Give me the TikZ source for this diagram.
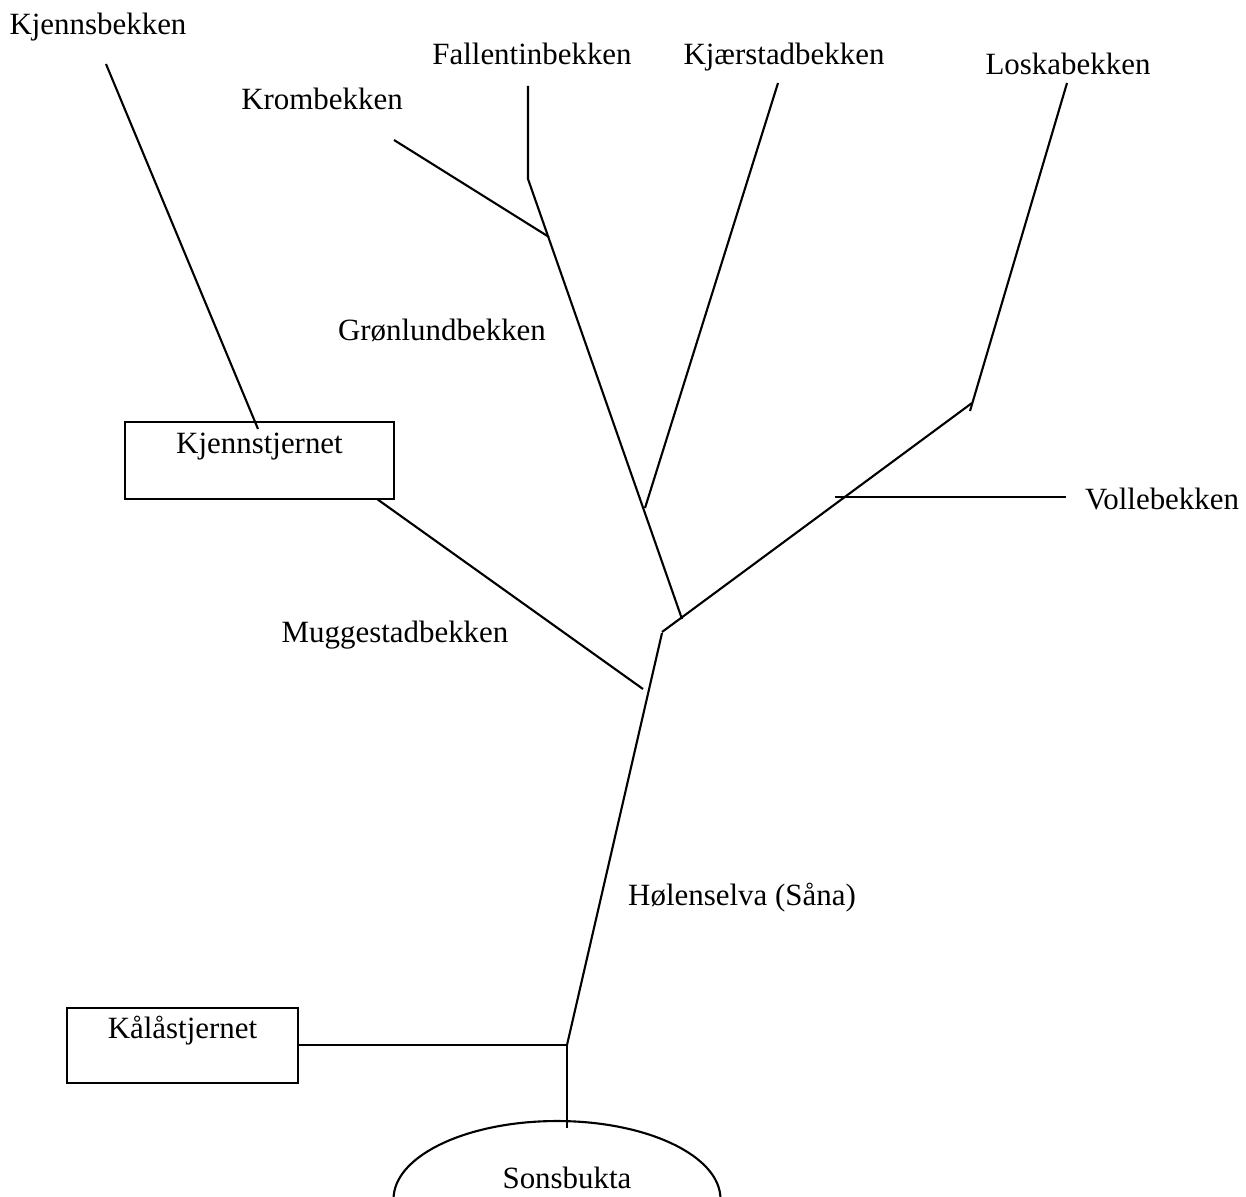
\documentclass[tikz,border=0pt]{standalone}
\usepackage{fontspec}
\setmainfont{Liberation Serif}
\usepackage{tikz}
\usetikzlibrary{shapes.geometric, positioning}

\begin{document}
\begin{tikzpicture}[
    x=0.02cm, y=-0.02cm,
    lbl/.style={font=\fontsize{17.6}{21}\selectfont, inner sep=0pt, anchor=base},
    river/.style={line width=1.2pt},
    tarn/.style={rectangle, draw, line width=1.2pt, inner xsep=0pt, inner ysep=0pt, anchor=base, font=\fontsize{17.6}{21}\selectfont},
    lake/.style={ellipse, draw, line width=1.2pt, inner sep=0pt, minimum width=6.54cm, minimum height=3.12cm, font=\fontsize{17.6}{21}\selectfont}
]
\useasboundingbox (0,0) rectangle (1246,1196);

% Tarns and the bay
\node[tarn, minimum width=5.38cm, text height=0.62cm, text depth=0.92cm] (kjt) at (259.5,453) {Kjennstjernet};
\node[tarn, minimum width=4.62cm, text height=0.60cm, text depth=0.90cm] (kal) at (182.5,1038) {Kålåstjernet};
\node[lake, text height=0.4cm, text depth=0.84cm] (sons) at (557,1199) {\hspace*{0.4cm}Sonsbukta};

% Stream names
\node[lbl] (kjbl) at (98,35) {Kjennsbekken};
\node[lbl] (kroml) at (322,110) {Krombekken};
\node[lbl] (fall) at (532,65) {Fallentinbekken};
\node[lbl] (kjael) at (784,65) {Kjærstadbekken};
\node[lbl] (loskl) at (1068,75) {Loskabekken};
\node[lbl] (grol) at (442,340) {Grønlundbekken};
\node[lbl] (voll) at (1162,509) {Vollebekken};
\node[lbl] (mugl) at (395,642) {Muggestadbekken};
\node[lbl] (holl) at (742,905) {Hølenselva (Såna)};

% Stream ends and junctions
\coordinate (kjb-s) at (106,64);
\coordinate (kjb-e) at (258,429);
\coordinate (mug-s) at (377,499);
\coordinate (mug-e) at (643,689);
\coordinate (krom-s) at (394,140);
\coordinate (krom-e) at (549,237);
\coordinate (fal-s) at (528,86);
\coordinate (fal-b) at (528,179);
\coordinate (gro-e) at (682,619);
\coordinate (kjae-s) at (778,83);
\coordinate (kjae-e) at (645,508);
\coordinate (losk-s) at (1067,83);
\coordinate (losk-e) at (970,411);
\coordinate (volle-b) at (972,403);
\coordinate (volle-e) at (662,632);
\coordinate (vb-s) at (835,497);
\coordinate (vb-e) at (1066,497);
\coordinate (hol-s) at (662,633);
\coordinate (hol-e) at (567,1045);
\coordinate (kal-e) at (298,1045);
\coordinate (sons-n) at (567,1128);

% Streams
\draw[river] (kjb-s) -- (kjb-e);
\draw[river] (mug-s) -- (mug-e);
\draw[river] (krom-s) -- (krom-e);
\draw[river] (fal-s) -- (fal-b) -- (gro-e);
\draw[river] (kjae-s) -- (kjae-e);
\draw[river] (losk-s) -- (losk-e);
\draw[river] (volle-b) -- (volle-e);
\draw[river] (vb-s) -- (vb-e);
\draw[river] (hol-s) -- (hol-e);
\draw[river] (kal-e) -- (hol-e);
\draw[river] (hol-e) -- (sons-n);
\end{tikzpicture}
\end{document}
